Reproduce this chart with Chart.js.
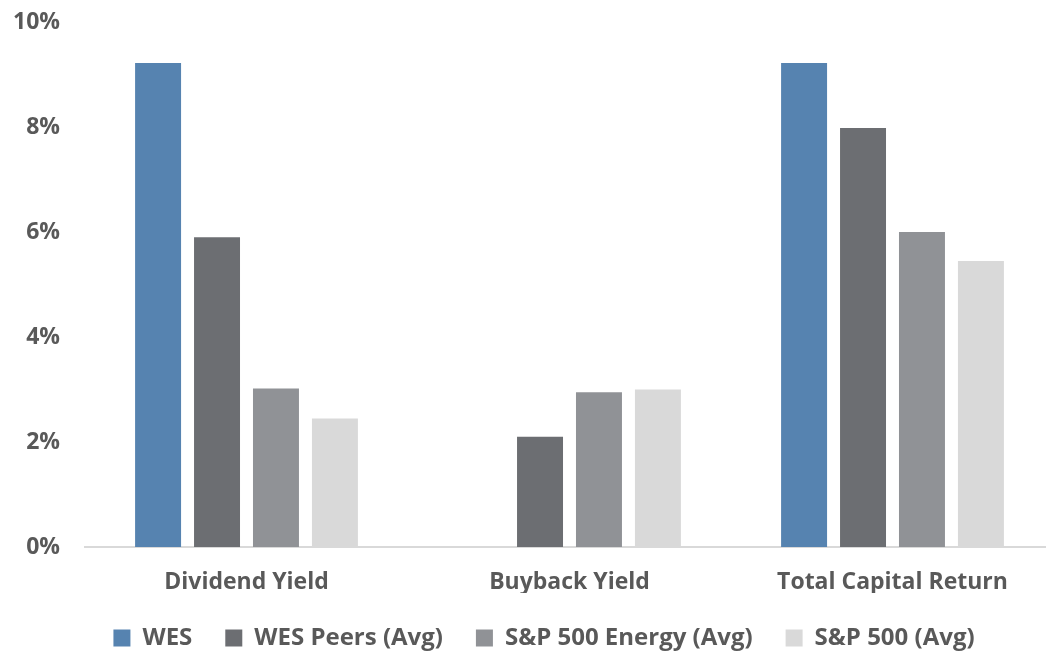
<!DOCTYPE html>
<html>
<head>
<meta charset="utf-8">
<script src="https://cdn.jsdelivr.net/npm/chart.js@4"></script>
<style>
  html, body { margin: 0; padding: 0; background: #fff; overflow: hidden; }
  #wrap { width: 1054px; height: 652px; }
</style>
</head>
<body>
<div id="wrap"><canvas id="myChart"></canvas></div>
<script>
var categories = ['Dividend Yield', 'Buyback Yield', 'Total Capital Return'];
var seriesNames = ['WES', 'WES Peers (Avg)', 'S&P 500 Energy (Avg)', 'S&P 500 (Avg)'];
var wesValues = [9.22, 0, 9.22];
var peersValues = [5.9, 2.1, 7.98];
var energyValues = [3.02, 2.95, 6.0];
var spValues = [2.45, 3.0, 5.45];
var barColors = ['#5683b0', '#6c6e72', '#909296', '#d9d9d9'];

Chart.defaults.font.family = '"Open Sans", sans-serif';
Chart.defaults.font.weight = 'bold';
Chart.defaults.color = '#595959';

var allValues = [wesValues, peersValues, energyValues, spValues];
var datasets = [];
for (var i = 0; i < seriesNames.length; i++) {
    datasets.push({
        label: seriesNames[i],
        data: allValues[i],
        backgroundColor: barColors[i],
        borderWidth: 0,
        barPercentage: 0.78,
        categoryPercentage: 0.73
    });
}

// fixed legend height + nudge it right, like the original
var legendTweak = {
    id: 'legendTweak',
    beforeInit: function (chart) {
        var originalFit = chart.legend.fit;
        chart.legend.fit = function () {
            originalFit.bind(chart.legend)();
            this.height = 59;
        };
    },
    afterLayout: function (chart) {
        chart.legend.left += 17;
        chart.legend.right += 17;
    }
};

var ctx = document.getElementById('myChart').getContext('2d');
var myChart = new Chart(ctx, {
    type: 'bar',
    data: {
        labels: categories,
        datasets: datasets
    },
    options: {
        responsive: true,
        maintainAspectRatio: false,
        animation: false,
        layout: {
            padding: 0
        },
        plugins: {
            legend: {
                position: 'bottom',
                labels: {
                    boxWidth: 17,
                    boxHeight: 17,
                    padding: 33,
                    font: { size: 24 }
                }
            },
            tooltip: { enabled: false }
        },
        scales: {
            x: {
                grid: { display: false },
                border: { color: '#d9d9d9', width: 2 },
                afterFit: function (scale) { scale.height = 46; },
                ticks: { padding: 14, font: { size: 23 } }
            },
            y: {
                min: 0,
                max: 10,
                grid: { display: false, drawTicks: false },
                border: { display: false },
                afterFit: function (scale) {
                    scale.width = 85;
                    scale.paddingTop = 22;
                    scale.paddingBottom = 0;
                },
                ticks: {
                    stepSize: 2,
                    padding: 25,
                    font: { size: 23 },
                    callback: function (value) { return value + '%'; }
                }
            }
        }
    },
    plugins: [legendTweak]
});
</script>
</body>
</html>
